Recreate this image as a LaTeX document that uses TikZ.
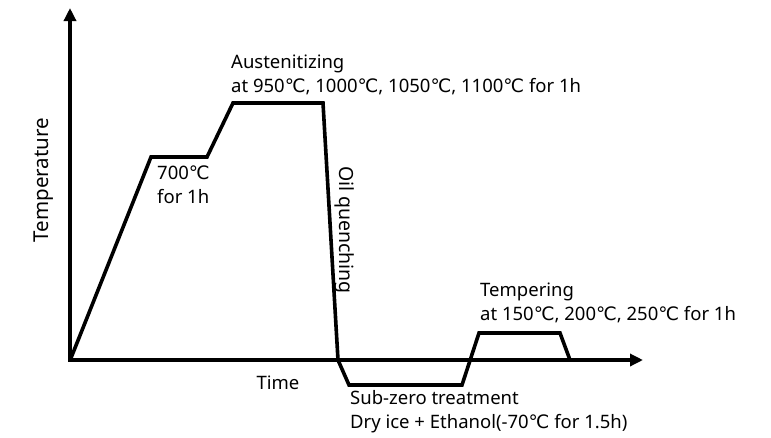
\documentclass[tikz,border=0pt]{standalone}
\usepackage{fontspec}
\setmainfont{Noto Sans}
\newfontfamily\dvfont{DejaVu Sans}
\newcommand{\dC}{{\dvfont ℃}}
\usetikzlibrary{arrows.meta}
\begin{document}
\begin{tikzpicture}[x=1pt,y=-1pt,
  axis/.style={line width=3.6pt,-{Triangle[length=13pt,width=12pt]}},
  curve/.style={line width=3.6pt,line join=miter},
  lbl/.style={inner sep=0pt,font=\fontsize{18.5}{23.5}\selectfont,align=left}]
\useasboundingbox (0,0) rectangle (771,437);
\coordinate (O) at (70,360);
\coordinate (ytip) at (70,8);
\coordinate (xtip) at (643,360);
\draw[axis] (70,361.8) -- (ytip);
\draw[axis] (68.2,360) -- (xtip);
\coordinate (p0) at (71,358);
\coordinate (p1) at (151,157);
\coordinate (p2) at (207,157);
\coordinate (p3) at (233,103);
\coordinate (p4) at (323,103);
\coordinate (p5) at (338,360);
\coordinate (p6) at (349,385);
\coordinate (p7) at (462,385);
\coordinate (p8) at (479,333);
\coordinate (p9) at (560,333);
\coordinate (p10) at (570,360);
\draw[curve] (p0) -- (p1) -- (p2) -- (p3) -- (p4) -- (p5) -- (p6) -- (p7) -- (p8) -- (p9) -- (p10);
\node[lbl,anchor=base west] (aus) at (231,92) {Austenitizing\\at 950\dC, 1000\dC, 1050\dC, 1100\dC{} for 1h};
\node[lbl,anchor=base west] (t700) at (157,203) {700\dC\\for 1h};
\node[lbl,anchor=base west] (temp) at (480,320) {Tempering\\at 150\dC, 200\dC, 250\dC{} for 1h};
\node[lbl,anchor=base west] (sub) at (350,428) {Sub-zero treatment\\Dry ice + Ethanol(-70\dC{} for 1.5h)};
\node[lbl,anchor=base] (time) at (278,389) {Time};
\node[lbl,rotate=90,font=\fontsize{20.5}{24}\selectfont] (ylab) at (44,180) {Temperature};
\node[lbl,rotate=-90,font=\fontsize{19.5}{24}\selectfont] (oil) at (345,230) {Oil quenching};
\end{tikzpicture}
\end{document}
